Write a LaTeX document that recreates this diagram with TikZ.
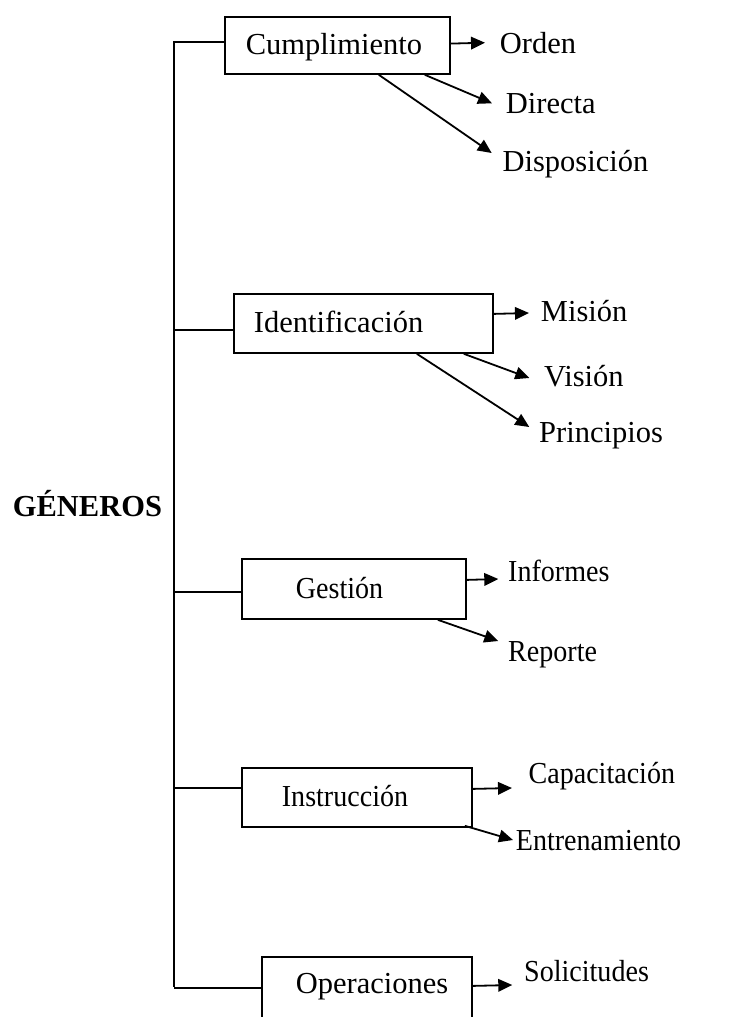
\documentclass[tikz,border=0pt]{standalone}
\usepackage{fontspec}
\setmainfont{Liberation Serif}
\newfontfamily\narrowserif[FakeStretch=0.92]{Liberation Serif}
\usetikzlibrary{arrows.meta}
\begin{document}
\begin{tikzpicture}[x=1pt,y=-1pt,line width=1.8pt,
  txt/.style={font=\fontsize{30.5}{36}\selectfont},
  smalltxt/.style={font=\narrowserif\fontsize{30.5}{36}\selectfont},
  box/.style={txt,draw,anchor=north west,inner sep=0pt,align=left,
    text height=21pt,text depth=2pt},
  leaf/.style={txt,anchor=base west,inner sep=0pt},
  arr/.style={-{Triangle[length=14pt,width=12.5pt]}}]
\useasboundingbox (0,0) rectangle (733,1017);

% category boxes
\node[box,minimum width=225pt,minimum height=57pt,text width=225pt] (C) at (224,16) {\hspace*{21pt}Cumplimiento};
\node[box,minimum width=259pt,minimum height=59pt,text width=259pt] (I) at (233,293) {\hspace*{20pt}Identificación};
\node[box,smalltxt,minimum width=224pt,minimum height=60pt,text width=224pt] (G) at (241,558) {\hspace*{54pt}Gestión};
\node[box,smalltxt,minimum width=230pt,minimum height=59pt,text width=230pt] (In) at (241,767) {\hspace*{40pt}Instrucción};
\node[box,minimum width=210pt,minimum height=70pt,text width=210pt,text depth=17pt] (O) at (261,956) {\hspace*{34pt}Operaciones};

% root label
\node[leaf,font=\fontsize{30.5}{36}\selectfont\bfseries] (root) at (12,516) {GÉNEROS};

% leaves
\node[leaf] (orden) at (499,53.3) {Orden};
\node[leaf] (directa) at (505,113.3) {Directa};
\node[leaf] (disp) at (501.7,171.7) {Disposición};
\node[leaf] (mision) at (540,321.7) {Misión};
\node[leaf] (vision) at (543.3,386) {Visión};
\node[leaf] (princ) at (538.3,442.7) {Principios};
\node[leaf,smalltxt] (inf) at (507.3,581.7) {Informes};
\node[leaf,smalltxt] (rep) at (507.3,661.7) {Reporte};
\node[leaf,smalltxt] (capa) at (527.7,783.3) {Capacitación};
\node[leaf,smalltxt] (entr) at (515,850) {Entrenamiento};
\node[leaf,smalltxt] (soli) at (523.3,981.7) {Solicitudes};

% trunk and branches
\coordinate (top) at (174,41);
\coordinate (bot) at (174,987);
\draw (top) -- (bot);
\path ([yshift=3.5pt]C.west) coordinate (cL)
      ([yshift=-6.5pt]I.west) coordinate (iL)
      ([yshift=-3pt]G.west) coordinate (gL)
      ([yshift=9.5pt]In.west) coordinate (nL)
      ([yshift=4pt]O.west) coordinate (oL);
\draw (top |- cL) -- (cL);
\draw (top |- iL) -- (iL);
\draw (top |- gL) -- (gL);
\draw (top |- nL) -- (nL);
\draw (top |- oL) -- (oL);

% arrows to the leaves
\draw[arr] ([yshift=1.8pt]C.east) -- ([shift={(-14,-10.6)}]orden.base west);
\draw[arr] ([xshift=-26pt]C.south east) -- ([shift={(-13,-10)}]directa.base west);
\draw[arr] ([xshift=-72pt]C.south east) -- ([shift={(-10,-18.7)}]disp.base west);

\draw[arr] ([yshift=9.5pt]I.east) -- ([shift={(-11,-8.7)}]mision.base west);
\draw[arr] ([xshift=-30pt]I.south east) -- ([shift={(-14,-8)}]vision.base west);
\draw[arr] ([xshift=-77pt]I.south east) -- ([shift={(-9,-15.7)}]princ.base west);

\draw[arr] ([yshift=9pt]G.east) -- ([shift={(-9,-2.7)}]inf.base west);
\draw[arr] ([xshift=-29pt]G.south east) -- ([shift={(-9,-20.7)}]rep.base west);

\draw[arr] ([yshift=8.5pt]In.east) -- ([shift={(-15.7,4.7)}]capa.base west);
\draw[arr] ([xshift=-8pt,yshift=2pt]In.south east) -- ([shift={(-2,-10)}]entr.base west);

\draw[arr] ([yshift=6pt]O.east) -- ([shift={(-11,3.3)}]soli.base west);
\end{tikzpicture}
\end{document}
